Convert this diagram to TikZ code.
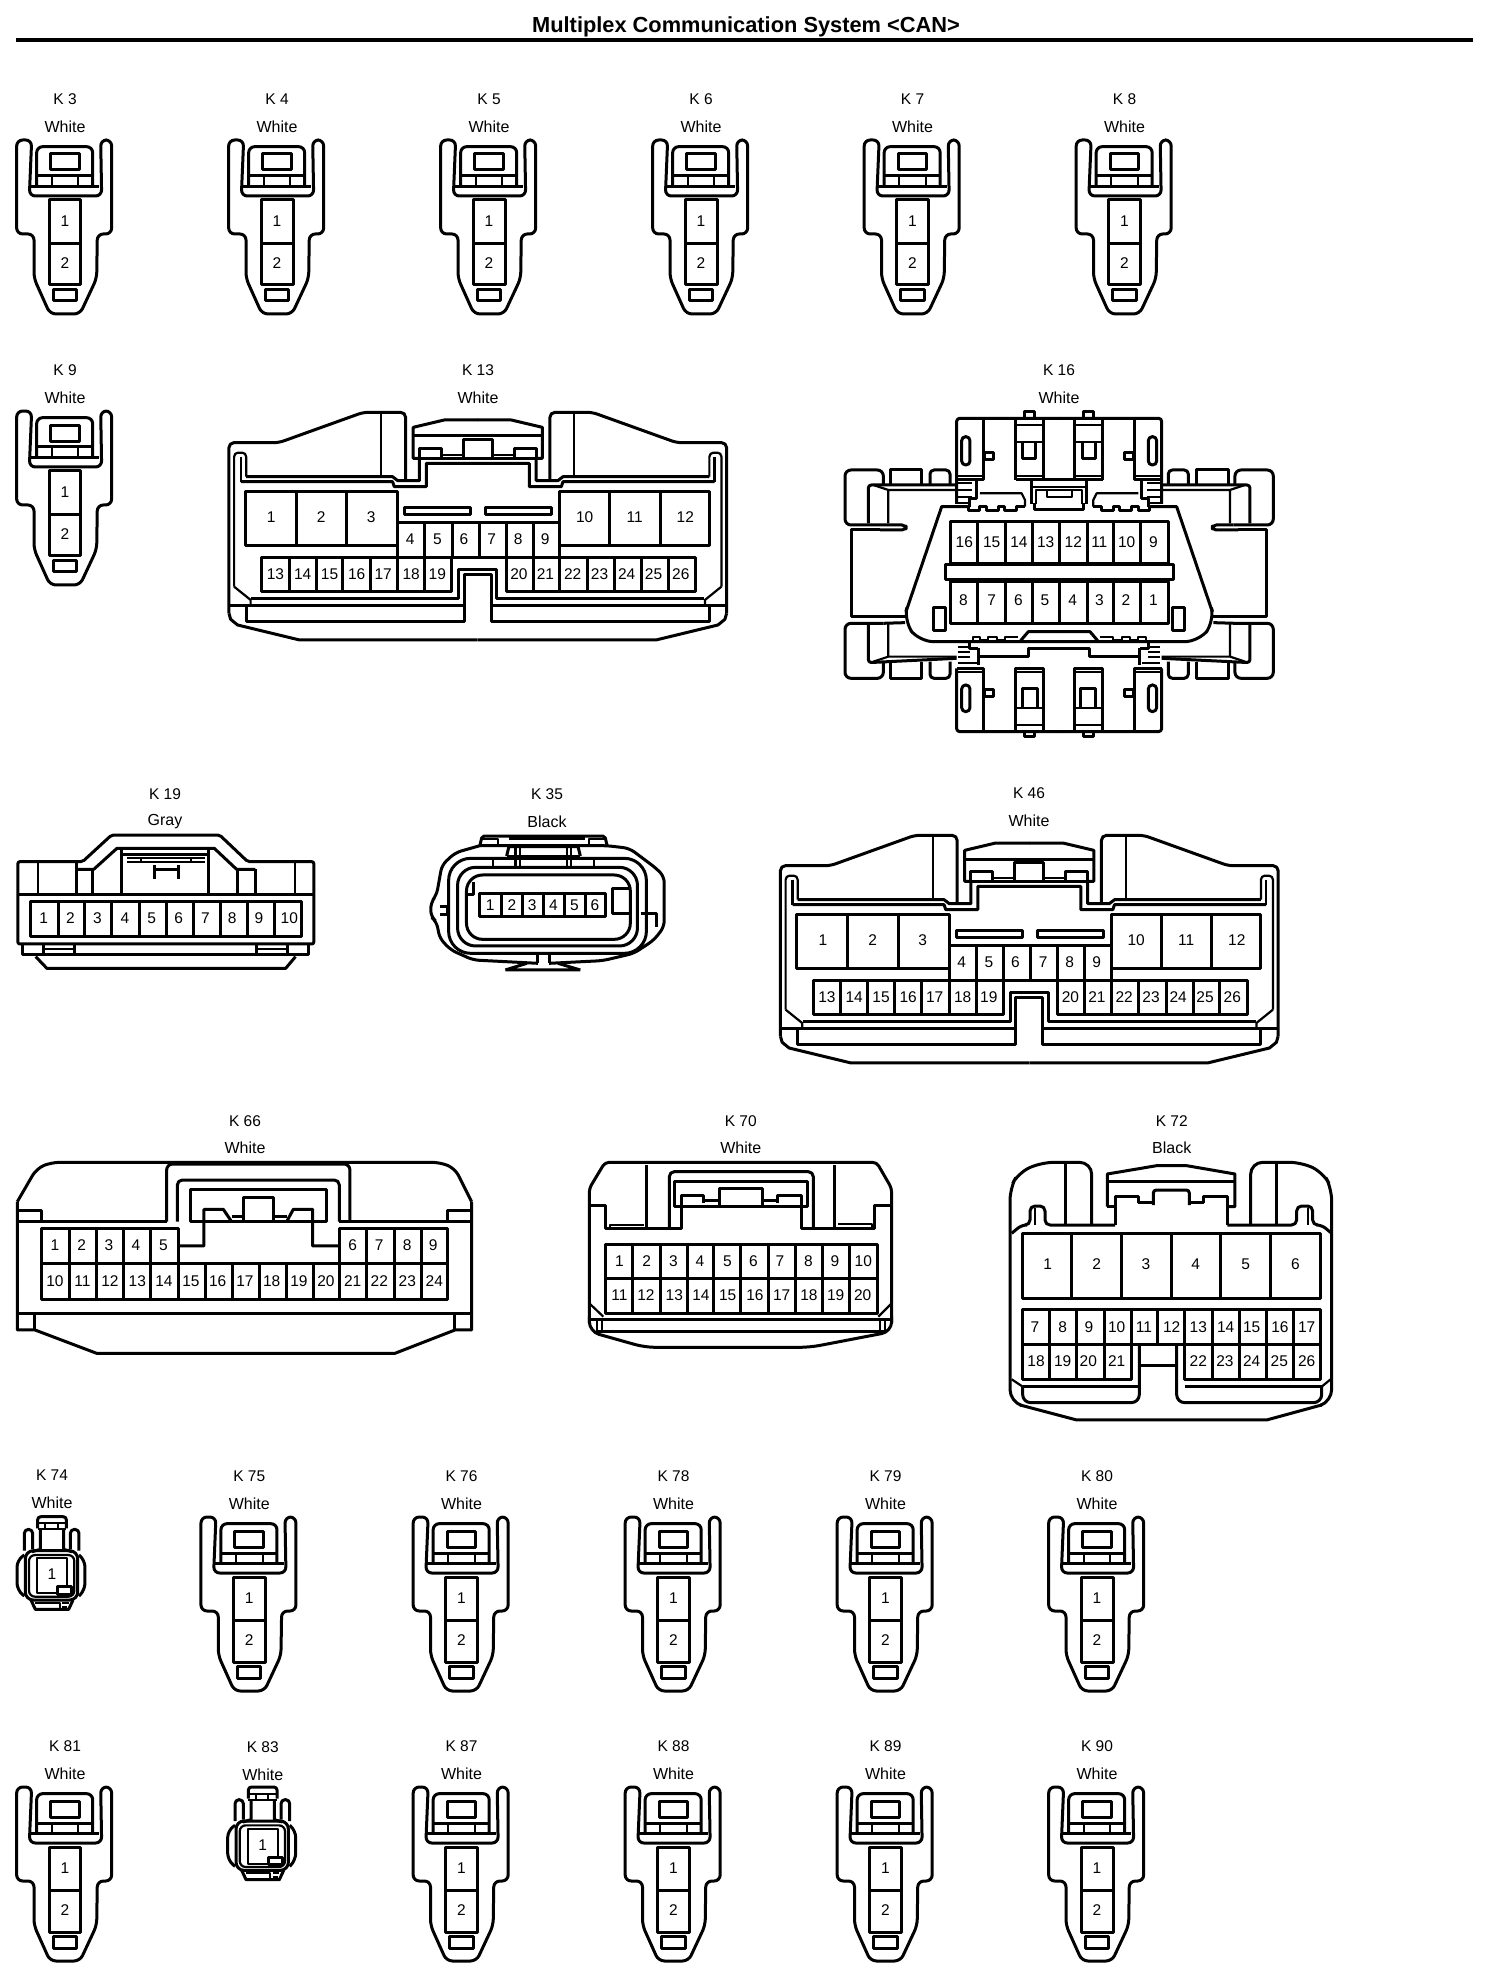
\documentclass[tikz,border=0pt]{standalone}
\usepackage{fontspec}
\setmainfont{Liberation Sans}
\tikzset{
  wire/.style={line width=3pt, line join=round},
  thin wire/.style={line width=2.2pt, line join=round},
  conname/.style={font=\fontsize{15.5}{16}\selectfont, inner sep=0pt},
  concolor/.style={font=\fontsize{16}{16}\selectfont, inner sep=0pt},
  pinlab/.style={font=\fontsize{15.5}{16}\selectfont, inner sep=0pt, text height=11pt, text depth=0pt},
}
% name and colour above a connector
\newcommand{\conlabel}[4]{
  \node[conname] (K#3) at (#1,#2) {K #3};
  \node[concolor] (K#3c) at (#1,#2+27.5) {#4};
}
% cells of a row: left, top, right, bottom, then the inner dividers
\newcommand{\pinrow}[5]{
  \draw[wire] (#1,#2) rectangle (#3,#4);
  \foreach \d in {#5} \draw[wire] (\d,#2) -- (\d,#4);
}
% two pin connector: centre x, top y
\newcommand{\twopin}[3]{
  \begin{scope}[shift={(#1,#2)},x=.3333pt,y=-.3333pt,shift={(-195,-210)}]
    \draw[wire, rounded corners=6pt] (50,210) -- (95,210) -- (88,378) -- (305,378) -- (302,210) -- (335,210)
      -- (335,492) -- (292,492) -- (290,625) -- (240,732) -- (150,732) -- (102,625) -- (102,492) -- (50,492) -- cycle;
    \draw[wire, rounded corners=6pt] (110,350) -- (110,230) -- (278,230) -- (278,350);
    \draw[wire] (92,350) -- (298,350);
    \draw[wire] (110,318) -- (278,318);
    \draw[thin wire] (155,320) -- (155,350) (235,320) -- (235,350);
    \draw[wire] (152,252) rectangle (238,300);
    \draw[wire] (148,390) rectangle (243,645);
    \draw[wire] (148,520) -- (243,520);
    \draw[wire] (160,658) rectangle (230,693);
    \node[pinlab] (K#3p1) at (195,452) {1};
    \node[pinlab] (K#3p2) at (195,580) {2};
  \end{scope}
}
% one half of the 26 pin shell
\newcommand{\bighalf}{
  \draw[wire, rounded corners=5pt] (55,790) -- (55,278) -- (200,278) -- (445,187) -- (568,187) -- (568,392);
  \draw[thin wire] (497,187) -- (497,378);
  \draw[wire] (55,790) -- (60,808) -- (80,825) -- (260,870) -- (777,870);
  \draw[thin wire, rounded corners=4pt] (70,710) -- (70,308) -- (105,308) -- (105,380);
  \draw[wire] (105,380) -- (530,380) -- (545,392) -- (608,392) -- (608,325) -- (590,325) -- (590,232) -- (680,210) -- (778,210);
  \draw[wire] (90,395) -- (530,395) -- (535,410) -- (628,410) -- (628,340) -- (778,340);
  \draw[thin wire] (90,320) -- (90,395);
  \draw[wire] (590,258) -- (778,258);
  \draw[wire] (590,325) -- (778,325);
  \draw[wire] (608,325) -- (608,295) -- (672,295) -- (672,325);
  \draw[thin wire] (672,314) -- (735,314);
  \draw[wire] (735,325) -- (735,268) -- (778,268);
  \draw[thin wire] (70,710) -- (118,750) -- (118,768);
  \draw[wire] (120,745) -- (722,745) -- (722,660) -- (778,660);
  \draw[wire] (55,768) -- (738,768);
  \draw[wire] (105,768) -- (105,815) -- (738,815) -- (738,675) -- (778,675);
}
% the 26 pin connector: left, top, prefix
\newcommand{\bigconn}[3]{
  \begin{scope}[shift={(#1,#2)},x=.3444pt,y=-.3333pt]
    \bighalf
    \begin{scope}[shift={(1555,0)},xscale=-1]
      \bighalf
    \end{scope}
    \pinrow{103}{425}{545}{588}{250,397}
    \pinrow{1015}{425}{1450}{588}{1160,1307}
    \pinrow{545}{518}{1015}{622}{623,703,782,860,938}
    \draw[wire] (565,472) rectangle (757,495);
    \draw[wire] (800,472) rectangle (992,495);
    \pinrow{150}{622}{702}{725}{230,308,385,465,545,623}
    \pinrow{860}{622}{1410}{725}{938,1015,1095,1175,1253,1330}
    \foreach \n/\x in {1/178,2/323,3/468,10/1088,11/1233,12/1380}
      \node[pinlab] (#3p\n) at (\x,502) {\n};
    \foreach \n/\x in {4/581,5/660,6/737,7/818,8/895,9/973}
      \node[pinlab] (#3p\n) at (\x,568) {\n};
    \foreach \n/\x in {13/190,14/269,15/347,16/426,17/503,18/584,19/660,20/897,21/974,22/1053,23/1131,24/1210,25/1288,26/1367}
      \node[pinlab] (#3p\n) at (\x,672) {\n};
  \end{scope}
}
% one half of K 16
\newcommand{\obdhalf}{
  % top block
  \draw[wire, rounded corners=3pt] (380,462) -- (380,205) -- (688,205);
  \draw[wire] (585,205) -- (585,185) -- (615,185) -- (615,205);
  \draw[wire] (460,205) -- (460,390) -- (380,390);
  \draw[thin wire] (385,378) -- (460,378);
  \draw[wire, rounded corners=4pt] (395,260) rectangle (420,345);
  \draw[wire] (465,308) rectangle (492,330);
  \draw[wire] (557,390) -- (557,205) (640,205) -- (640,390);
  \draw[wire] (557,390) -- (688,390);
  \draw[thin wire] (557,225) -- (640,225) (557,275) -- (640,275) (557,378) -- (640,378);
  \draw[wire] (578,275) -- (578,325) -- (618,325) -- (618,275);
  % ladder and clip
  \draw[wire] (605,392) -- (605,462);
  \draw[thin wire] (605,410) -- (688,410);
  \draw[thin wire] (618,462) -- (618,420) -- (688,420);
  \draw[thin wire] (650,420) -- (650,440) -- (688,440);
  \draw[thin wire] (385,400) -- (425,400) (385,420) -- (425,420) (385,440) -- (425,440) (385,458) -- (415,458);
  \draw[wire] (440,390) -- (440,445) -- (420,445) -- (420,470);
  \draw[thin wire] (450,430) -- (575,430) -- (585,450) -- (585,470);
  % wing
  \draw[wire, rounded corners=6pt] (160,405) -- (160,360) -- (45,360) -- (45,525) -- (165,525);
  \draw[wire, rounded corners=4pt] (165,525) -- (228,525) -- (228,540) -- (150,540);
  \draw[wire] (150,540) -- (65,540) -- (65,800) -- (225,800);
  \draw[wire, rounded corners=6pt] (160,820) -- (45,820) -- (45,985) -- (160,985) -- (160,935);
  \draw[wire] (160,820) -- (225,818);
  \draw[wire] (180,405) -- (180,360) -- (275,360) -- (275,405);
  \draw[wire, rounded corners=4pt] (300,405) -- (300,360) -- (360,360) -- (360,405);
  \draw[wire, rounded corners=3pt] (115,520) -- (115,405) -- (380,405);
  \draw[thin wire] (130,405) -- (175,420) -- (175,520) (175,420) -- (380,420);
  \draw[wire, rounded corners=3pt] (115,820) -- (115,938) -- (380,925);
  \draw[thin wire] (175,820) -- (175,920) -- (380,920) (130,935) -- (175,920);
  \draw[wire] (180,935) -- (180,985) -- (275,985) -- (275,935);
  \draw[wire, rounded corners=4pt] (300,935) -- (300,985) -- (360,985) -- (360,935);
  % body
  \draw[wire] (415,470) -- (335,470) -- (228,785);
  \draw[wire, rounded corners=14pt] (228,785) -- (222,815) -- (268,875) -- (688,875);
  \draw[wire] (415,470) -- (415,482) -- (450,482) -- (450,470) -- (470,470) -- (470,482) -- (505,482) -- (505,470)
    -- (525,470) -- (525,482) -- (560,482) -- (560,470) -- (585,470);
  \draw[wire] (615,460) -- (615,480) -- (688,480);
  \draw[wire] (310,772) rectangle (347,842);
  % teeth and lower clip
  \draw[thin wire] (428,875) -- (428,862) -- (450,862) -- (450,870) -- (475,870) -- (475,862) -- (500,862) -- (500,870) -- (525,870) -- (525,862) -- (565,862);
  \draw[wire] (572,872) -- (595,845) -- (688,845);
  \draw[wire] (445,895) -- (445,945);
  \draw[wire] (420,875) -- (420,895) -- (445,895);
  \draw[wire] (445,920) -- (595,920) -- (595,897) -- (688,897);
  \draw[thin wire] (385,890) -- (420,890) (385,905) -- (420,905) (385,922) -- (420,922) (385,940) -- (440,940);
  % bottom block
  \draw[wire, rounded corners=3pt] (380,955) -- (380,1145) -- (688,1145);
  \draw[wire] (380,955) -- (460,955) -- (460,1145);
  \draw[thin wire] (385,965) -- (460,965);
  \draw[wire, rounded corners=4pt] (395,1005) rectangle (420,1085);
  \draw[wire] (465,1018) rectangle (492,1040);
  \draw[wire] (557,1145) -- (557,955) -- (640,955) -- (640,1145);
  \draw[thin wire] (557,965) -- (640,965) (557,1075) -- (640,1075) (557,1125) -- (640,1125);
  \draw[wire] (578,1075) -- (578,1015) -- (622,1015) -- (622,1075);
  \draw[wire] (585,1145) -- (585,1160) -- (615,1160) -- (615,1145);
}
% small one pin connector: centre x, top y, name
\newcommand{\onepin}[3]{
  \begin{scope}[shift={(#1,#2)},x=.3333pt,y=-.3333pt,shift={(-155,-170)}]
    \draw[wire, rounded corners=3pt] (112,205) -- (112,170) -- (198,170) -- (198,205);
    \draw[thin wire] (112,190) -- (198,190) (112,208) -- (198,208) (135,190) -- (135,208) (172,190) -- (172,208);
    \draw[wire] (120,208) -- (120,268) -- (95,275) (190,208) -- (190,268) -- (215,275);
    \draw[wire, rounded corners=4pt] (72,272) -- (72,208) -- (97,208) -- (97,268);
    \draw[wire, rounded corners=4pt] (236,272) -- (236,208) -- (210,208) -- (210,268);
    \draw[wire, rounded corners=7pt] (72,285) -- (50,300) -- (50,390) -- (72,408);
    \draw[wire, rounded corners=7pt] (236,285) -- (254,300) -- (254,390) -- (236,408);
    \draw[wire, rounded corners=8pt] (75,272) rectangle (232,420);
    \draw[thin wire, rounded corners=6pt] (86,285) rectangle (222,410);
    \draw[thin wire] (110,295) rectangle (200,400);
    \draw[wire, fill=white] (172,380) rectangle (215,402);
    \draw[wire] (92,420) -- (105,448) -- (205,448) -- (218,420);
    \draw[thin wire] (105,428) -- (178,428) -- (178,445) (185,428) -- (205,428) (185,440) -- (200,440);
    \node[pinlab] (K#3p1) at (155,343) {1};
  \end{scope}
}
\begin{document}
\begin{tikzpicture}[x=1pt,y=-1pt]
  \useasboundingbox (0,0) rectangle (1504,1980);
  \node[font=\fontsize{21.8}{22}\selectfont\bfseries, inner sep=0pt] (title) at (746,27) {Multiplex Communication System <CAN>};
  \draw[line width=4pt] (16,39.7) -- (1473,39.7);

  % the many two pin connectors
  \foreach \n/\x/\y in {3/65/140,4/277/140,5/489/140,6/701/140,7/912.5/140,8/1124.5/140,9/65/411,
      75/249.3/1517,76/461.5/1517,78/673.5/1517,79/885.5/1517,80/1097/1517,
      81/65/1787,87/461.5/1787,88/673.5/1787,89/885.5/1787,90/1097/1787} {
    \conlabel{\x}{\y-41}{\n}{White}
    \twopin{\x}{\y}{\n}
  }

  % K 13 and K 46
  \conlabel{478}{370}{13}{White}
  \bigconn{210}{350}{K13}
  \conlabel{1029}{793.5}{46}{White}
  \bigconn{761.5}{773}{K46}

  % K 16
  \conlabel{1059}{370}{16}{White}
  \begin{scope}[shift={(830,350)},x=.3333pt,y=-.3333pt]
    \obdhalf
    \begin{scope}[shift={(1375,0)},xscale=-1]
      \obdhalf
    \end{scope}
    \pinrow{360}{515}{1015}{640}{443,527,607,690,772,852,932}
    \draw[wire] (347,645) rectangle (1032,690);
    \pinrow{360}{695}{1015}{820}{443,527,607,690,772,852,932}
    \foreach \n/\x in {16/403,15/485,14/567,13/647,12/730,11/808,10/890,9/970}
      \node[pinlab] (K16p\n) at (\x,577) {\n};
    \foreach \n/\x in {8/400,7/485,6/565,5/645,4/728,3/808,2/888,1/970}
      \node[pinlab] (K16p\n) at (\x,750) {\n};
  \end{scope}

  % K 19
  \conlabel{165}{794}{19}{Gray}
  \begin{scope}[shift={(0,780)},x=.4464pt,y=-.3333pt]
    \draw[wire, rounded corners=2pt] (40,245) -- (185,245) -- (250,165) -- (492,165) -- (555,245) -- (703,245) -- (703,492) -- (40,492) -- cycle;
    \draw[wire] (40,345) -- (703,345);
    \draw[thin wire] (85,250) -- (85,345) (660,250) -- (660,345);
    \draw[wire] (172,245) -- (172,345) (572,268) -- (572,345);
    \draw[wire] (172,268) -- (210,268) -- (262,205) -- (480,205) -- (530,268) -- (572,268);
    \draw[wire] (207,270) -- (207,345) (532,270) -- (532,345);
    \draw[wire] (272,210) -- (272,345) (468,210) -- (468,345);
    \draw[wire] (272,222) -- (468,222);
    \draw[thin wire] (285,235) -- (460,235) (285,245) -- (460,245) (315,235) -- (315,245) (428,235) -- (428,245);
    \draw[wire] (345,255) -- (345,298) (400,255) -- (400,298) (345,270) -- (400,270);
    \pinrow{68}{365}{675}{470}{130,190,250,312,372,433,495,555,615}
    \foreach \n/\x in {1/98,2/158,3/218,4/280,5/340,6/400,7/460,8/520,9/580,10/648}
      \node[pinlab] (K19p\n) at (\x,413) {\n};
    \draw[wire] (50,492) -- (50,525) -- (690,525) -- (690,492);
    \draw[wire] (97,495) -- (97,525) (168,495) -- (168,525) (575,495) -- (575,525) (645,495) -- (645,525);
    \draw[thin wire] (97,508) -- (168,508) (575,508) -- (645,508);
    \draw[wire] (80,530) -- (105,565) -- (640,565) -- (662,530);
  \end{scope}

  % K 35
  \conlabel{547}{794}{35}{Black}
  \begin{scope}[shift={(0,780)},x=.4464pt,y=-.3333pt]
    \draw[wire, rounded corners=2pt] (1075,197) -- (1080,168) -- (1355,168) -- (1360,197);
    \draw[wire] (1140,176) -- (1310,176);
    \draw[thin wire] (1080,178) -- (1115,178) -- (1115,197) (1355,178) -- (1320,178) -- (1320,197);
    \draw[wire, rounded corners=6pt] (1075,197) -- (1020,218) -- (990,255) -- (978,345) -- (965,368) -- (965,410)
      -- (978,425) -- (985,475) -- (1010,510) -- (1060,540) -- (1205,550);
    \draw[wire, rounded corners=6pt] (1230,550) -- (1350,542) -- (1420,520) -- (1465,480) -- (1488,440) -- (1488,290)
      -- (1470,265) -- (1410,205) -- (1360,197) -- (1075,197);
    \draw[wire] (1132,570) -- (1300,570) (1132,570) -- (1180,550) (1250,550) -- (1300,570);
    \draw[wire] (1205,550) -- (1205,520) (1230,520) -- (1230,550);
    \draw[wire] (985,380) -- (1003,380) -- (1003,405) -- (985,405);
    \draw[wire] (1435,400) -- (1470,400) -- (1470,440);
    \draw[wire, rounded corners=22pt] (1005,235) rectangle (1448,520);
    \draw[wire, rounded corners=18pt] (1025,262) rectangle (1428,498);
    \draw[wire, rounded corners=16pt] (1045,285) rectangle (1412,478);
    \draw[wire] (1135,228) -- (1140,200) -- (1295,200) -- (1300,228);
    \draw[wire] (1135,228) -- (1300,228);
    \draw[thin wire] (1155,200) -- (1155,262) (1165,200) -- (1165,262) (1270,200) -- (1270,262) (1280,200) -- (1280,262);
    \draw[thin wire] (1105,235) -- (1105,262) (1330,235) -- (1330,262);
    \draw[wire] (1045,345) -- (1060,345) -- (1060,305);
    \pinrow{1075}{342}{1357}{410}{1123,1170,1218,1265,1312}
    \foreach \n/\x in {1/1098,2/1147,3/1192,4/1240,5/1287,6/1333}
      \node[pinlab] (K35p\n) at (\x,375) {\n};
    \draw[wire] (1410,325) -- (1372,325) -- (1372,400) -- (1410,400);
  \end{scope}

  % K 66
  \conlabel{245}{1120.7}{66}{White}
  \begin{scope}[shift={(0,1100)},x=.3333pt,y=-.3333pt]
    \draw[wire, rounded corners=8pt] (52,305) -- (110,205) -- (155,187) -- (1320,187) -- (1365,205) -- (1415,305);
    \draw[wire] (52,305) -- (52,690) -- (105,690) -- (290,760) -- (1185,760) -- (1365,690) -- (1415,690) -- (1415,305);
    \draw[wire] (52,365) -- (500,365) (1018,365) -- (1415,365);
    \draw[wire, rounded corners=6pt] (500,365) -- (500,192) -- (1050,192) -- (1050,365);
    \draw[wire, rounded corners=5pt] (532,365) -- (532,240) -- (1018,240) -- (1018,365);
    \draw[wire] (55,330) -- (125,330) -- (125,365) (1415,330) -- (1343,330) -- (1343,365);
    \draw[wire] (572,268) rectangle (980,365);
    \draw[wire] (535,438) -- (612,438) -- (612,328) -- (670,328) -- (695,365);
    \draw[wire] (695,350) -- (730,350) (822,350) -- (860,350);
    \draw[wire] (730,365) -- (730,292) -- (822,292) -- (822,365);
    \draw[wire] (860,365) -- (880,328) -- (938,328) -- (938,438) -- (1018,438);
    \draw[wire] (535,490) -- (535,385) -- (125,385) -- (125,598) -- (1343,598) -- (1343,385) -- (1018,385) -- (1018,490);
    \draw[wire] (125,490) -- (1343,490);
    \foreach \d in {208,290,372,452,1100,1183,1265} \draw[wire] (\d,385) -- (\d,598);
    \foreach \d in {535,617,697,778,860,942,1018} \draw[wire] (\d,490) -- (\d,598);
    \foreach \n/\x in {1/165,2/245,3/327,4/408,5/490,6/1058,7/1138,8/1222,9/1300}
      \node[pinlab] (K66p\n) at (\x,435) {\n};
    \foreach \n/\x in {10/165,11/247,12/330,13/412,14/492,15/573,16/653,17/735,18/815,19/897,20/978,21/1058,22/1138,23/1222,24/1303}
      \node[pinlab] (K66p\n) at (\x,542) {\n};
    \draw[wire] (52,640) -- (1415,640);
    \draw[wire] (105,640) -- (105,690) (1365,640) -- (1365,690);
  \end{scope}

  % K 70
  \conlabel{740.7}{1120.7}{70}{White}
  \begin{scope}[shift={(570,1100)},x=.3333pt,y=-.3333pt]
    \draw[wire, rounded corners=4pt] (58,670) -- (58,265) -- (105,187) -- (920,187) -- (965,265) -- (965,670);
    \draw[wire, rounded corners=10pt] (58,650) -- (58,695) -- (225,742) -- (720,742) -- (965,695) -- (965,650);
    \draw[wire] (58,315) -- (105,315) -- (105,385) -- (335,385) -- (335,318);
    \draw[wire] (695,318) -- (695,385) -- (915,385) -- (915,315) -- (965,315);
    \draw[wire] (230,195) -- (230,385) (795,195) -- (795,385);
    \draw[thin wire] (120,385) -- (120,375) -- (222,375) (905,385) -- (905,372) -- (805,372);
    \draw[wire, rounded corners=5pt] (298,385) -- (298,215) -- (730,215) -- (730,385);
    \draw[wire] (315,245) rectangle (712,318);
    \draw[wire] (335,318) -- (335,285) -- (400,285) -- (400,310);
    \draw[wire] (400,300) -- (450,300) (578,300) -- (622,300);
    \draw[wire] (450,318) -- (450,265) -- (578,265) -- (578,318);
    \draw[wire] (622,310) -- (622,285) -- (695,285) -- (695,318);
    \pinrow{105}{435}{922}{640}{188,272,352,432,512,595,677,757,840}
    \draw[wire] (105,535) -- (922,535);
    \foreach \n/\x in {1/148,2/230,3/310,4/390,5/472,6/550,7/630,8/715,9/795,10/880}
      \node[pinlab] (K70p\n) at (\x,482) {\n};
    \foreach \n/\x in {11/148,12/228,13/313,14/393,15/473,16/555,17/635,18/717,19/797,20/878}
      \node[pinlab] (K70p\n) at (\x,585) {\n};
    \draw[thin wire] (58,610) -- (100,650) (965,610) -- (925,650);
    \draw[wire] (60,658) -- (965,658);
    \draw[thin wire] (80,658) -- (80,695) (95,660) -- (95,690) (930,660) -- (930,690) (945,660) -- (945,695);
    \draw[wire] (80,695) -- (945,695);
  \end{scope}

  % K 72
  \conlabel{1171.7}{1120.7}{72}{Black}
  \begin{scope}[shift={(1000,1100)},x=.3333pt,y=-.3333pt]
    \draw[wire, rounded corners=12pt] (275,375) -- (275,187) -- (125,187) -- (55,218) -- (30,265) -- (30,905) -- (60,915);
    \draw[wire, rounded corners=12pt] (752,375) -- (752,187) -- (905,187) -- (970,218) -- (995,265) -- (995,905) -- (965,915);
    \draw[wire] (60,915) -- (230,960) -- (800,960) -- (965,915);
    \draw[wire] (197,187) -- (197,375) (830,190) -- (830,375);
    \draw[wire] (322,320) -- (322,222) -- (470,197) -- (560,197) -- (705,222) -- (705,320) -- (682,320);
    \draw[wire] (322,245) -- (705,245) (322,320) -- (345,320);
    \draw[wire] (415,310) -- (415,290) -- (345,290) -- (345,375);
    \draw[wire] (415,308) -- (460,308) (568,308) -- (612,308);
    \draw[wire, rounded corners=3pt] (460,315) -- (460,270) -- (568,270) -- (568,315);
    \draw[wire] (612,310) -- (612,290) -- (682,290) -- (682,375);
    \draw[wire, rounded corners=5pt] (35,400) -- (65,375) -- (90,375) -- (90,318) -- (135,318) -- (135,375) -- (345,375);
    \draw[wire, rounded corners=5pt] (995,400) -- (965,375) -- (938,375) -- (938,318) -- (890,318) -- (890,375) -- (682,375);
    \draw[thin wire] (105,325) -- (105,375) (925,325) -- (925,375);
    \pinrow{68}{400}{962}{595}{215,365,515,662,812}
    \foreach \n/\x in {1/143,2/290,3/438,4/587,5/737,6/886}
      \node[pinlab] (K72p\n) at (\x,493) {\n};
    \pinrow{68}{630}{962}{735}{148,230,312,395,473,555,637,720,800,882}
    \foreach \n/\x in {7/105,8/188,9/267,10/350,11/432,12/515,13/595,14/677,15/755,16/840,17/920}
      \node[pinlab] (K72p\n) at (\x,680) {\n};
    \pinrow{68}{735}{393}{838}{148,230,312}
    \pinrow{555}{735}{962}{838}{637,720,800,882}
    \foreach \n/\x in {18/108,19/188,20/265,21/350}
      \node[pinlab] (K72p\n) at (\x,782) {\n};
    \foreach \n/\x in {22/595,23/675,24/755,25/838,26/920}
      \node[pinlab] (K72p\n) at (\x,782) {\n};
    \draw[wire, rounded corners=8pt] (418,738) -- (418,908) -- (68,908) -- (68,860);
    \draw[wire, rounded corners=8pt] (530,738) -- (530,908) -- (965,908) -- (965,860);
    \draw[wire] (418,797) -- (530,797);
    \draw[wire] (68,860) -- (418,860) (555,860) -- (965,860);
    \draw[thin wire] (35,838) -- (68,860) (992,838) -- (965,860);
  \end{scope}

  % the two small connectors
  \conlabel{52}{1475}{74}{White}
  \onepin{52}{1516.7}{74}
  \conlabel{262.7}{1747}{83}{White}
  \onepin{262.7}{1787}{83}
\end{tikzpicture}
\end{document}
